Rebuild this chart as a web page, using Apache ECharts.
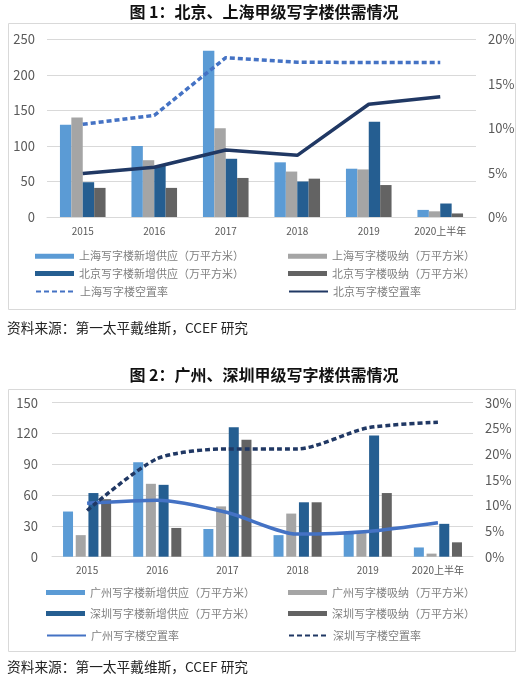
<!DOCTYPE html>
<html><head><meta charset="utf-8">
<script src="https://cdn.jsdelivr.net/npm/echarts@6/dist/echarts.min.js"></script>
<style>html,body{margin:0;padding:0;background:#fff}#c{width:524px;height:680px}</style>
</head><body><div id="c"></div>
<script>
// ---- Data ----
const categories = ['2015','2016','2017','2018','2019','2020上半年'];
// Chart 1 (万平方米)
const shSupply = [130,100,234,77,68,10];
const shAbsorb = [140,80,125,64,67,8];
const bjSupply = [49,72,82,50,134,19];
const bjAbsorb = [41,41,55,54,45,5];
// Chart 1 vacancy (%)
const shVacancy = [10.45,11.45,17.95,17.45,17.4,17.4];
const bjVacancy = [4.9,5.6,7.55,6.95,12.7,13.55];
// Chart 2 (万平方米)
const gzSupply = [44,92,27,21,23,9];
const gzAbsorb = [21,71,49,42,23,3];
const szSupply = [62,70,126,53,118,32];
const szAbsorb = [56,28,114,53,62,14];
// Chart 2 vacancy (%)
const gzVacancy = [10.4,11.0,8.6,4.4,4.9,6.6];
const szVacancy = [9.0,19.1,21.0,21.0,25.1,26.2];

const names1 = ['上海写字楼新增供应（万平方米）','上海写字楼吸纳（万平方米）','北京写字楼新增供应（万平方米）','北京写字楼吸纳（万平方米）','上海写字楼空置率','北京写字楼空置率'];
const names2 = ['广州写字楼新增供应（万平方米）','广州写字楼吸纳（万平方米）','深圳写字楼新增供应（万平方米）','深圳写字楼吸纳（万平方米）','广州写字楼空置率','深圳写字楼空置率'];

const C_LB='#5B9BD5', C_G='#A5A5A5', C_DB='#255E91', C_DG='#636363', C_MB='#4472C4', C_NV='#203864';
const FONT='"Noto Sans CJK SC","Noto Sans",sans-serif';
const gridLine={show:true,lineStyle:{color:'#d9d9d9',width:1}};
const axisLbl={color:'#595959',fontSize:13,fontFamily:FONT};

function xAxis(gi){return {type:'category',gridIndex:gi,data:categories,
  axisLine:{show:true,lineStyle:{color:'#d9d9d9'}},axisTick:{show:false},
  axisLabel:{color:'#595959',fontSize:10,fontFamily:FONT,margin:9,interval:0}};}
function yL(gi,max,intv,m){return {type:'value',gridIndex:gi,min:0,max:max,interval:intv,position:'left',
  splitLine:gridLine,axisLine:{show:false},axisTick:{show:false},axisLabel:Object.assign({margin:m},axisLbl)};}
function yR(gi,max,intv){return {type:'value',gridIndex:gi,min:0,max:max,interval:intv,position:'right',
  splitLine:{show:false},axisLine:{show:false},axisTick:{show:false},
  axisLabel:Object.assign({margin:12,formatter:'{value}%'},axisLbl)};}

function bar(name,data,color,xi,yi,bw,gap){return {type:'bar',name:name,data:data,xAxisIndex:xi,yAxisIndex:yi,
  barWidth:bw,barGap:gap,itemStyle:{color:color},z:2};}
function line(name,data,color,xi,yi,dashed,smooth){return {type:'line',name:name,data:data,xAxisIndex:xi,yAxisIndex:yi,
  symbol:'none',smooth:smooth,z:5,lineStyle:{color:color,width:3.5,type:dashed?[5,3]:'solid',cap:'butt'},itemStyle:{color:color}};}

function lg(name,left,cy,isLine){const o={data:[name],left:left,top:cy-6,padding:0,itemWidth:39,itemHeight:isLine?6:5,
  selectedMode:false,
  textStyle:{color:'#7f7f7f',fontSize:11,fontFamily:FONT,padding:[0,0,0,0]},itemGap:5};
  if(isLine){o.itemStyle={opacity:0};} else {o.icon='rect';}
  return o;}

const option={
  animation:false,
  grid:[{left:47,top:39.5,width:429,height:177.5},{left:52,top:402.7,width:421,height:154}],
  xAxis:[xAxis(0),xAxis(1)],
  yAxis:[yL(0,250,50,12),yR(0,20,5),yL(1,150,30,14),yR(1,30,5)],
  legend:[
    lg(names1[0],35,256.7,false),lg(names1[1],288,256.7,false),
    lg(names1[2],35,274,false),lg(names1[3],288,274,false),
    lg(names1[4],35,292,true),lg(names1[5],288,292,true),
    lg(names2[0],46,593,false),lg(names2[1],288,593,false),
    lg(names2[2],46,614,false),lg(names2[3],288,614,false),
    lg(names2[4],46,636,true),lg(names2[5],288,636,true)
  ],
  series:[
    bar(names1[0],shSupply,C_LB,0,0,11.4,'0%'),
    bar(names1[1],shAbsorb,C_G,0,0,11.4,'0%'),
    bar(names1[2],bjSupply,C_DB,0,0,11.4,'0%'),
    bar(names1[3],bjAbsorb,C_DG,0,0,11.4,'0%'),
    line(names1[4],shVacancy,C_MB,0,1,true,false),
    line(names1[5],bjVacancy,C_NV,0,1,false,false),
    bar(names2[0],gzSupply,C_LB,1,2,10,'27%'),
    bar(names2[1],gzAbsorb,C_G,1,2,10,'27%'),
    bar(names2[2],szSupply,C_DB,1,2,10,'27%'),
    bar(names2[3],szAbsorb,C_DG,1,2,10,'27%'),
    line(names2[4],gzVacancy,C_MB,1,3,false,0.25),
    line(names2[5],szVacancy,C_NV,1,3,true,0.25)
  ],
  graphic:[
    {type:'rect',shape:{x:8.5,y:23.5,width:507,height:286},style:{fill:'none',stroke:'#d9d9d9',lineWidth:1},z:-1},
    {type:'rect',shape:{x:8.5,y:389.5,width:507,height:262},style:{fill:'none',stroke:'#d9d9d9',lineWidth:1},z:-1},
    {type:'text',x:264,y:12,style:{text:'图 1：北京、上海甲级写字楼供需情况',fill:'#111',font:'bold 16px '+FONT,textAlign:'center',textVerticalAlign:'middle'}},
    {type:'text',x:264,y:375,style:{text:'图 2：广州、深圳甲级写字楼供需情况',fill:'#111',font:'bold 16px '+FONT,textAlign:'center',textVerticalAlign:'middle'}},
    {type:'text',x:7,y:328,style:{text:'资料来源：第一太平戴维斯，CCEF 研究',fill:'#222',font:'13.7px '+FONT,textAlign:'left',textVerticalAlign:'middle'}},
    {type:'text',x:7,y:667,style:{text:'资料来源：第一太平戴维斯，CCEF 研究',fill:'#222',font:'13.7px '+FONT,textAlign:'left',textVerticalAlign:'middle'}}
  ]
};
const chart=echarts.init(document.getElementById('c'),null,{renderer:'canvas'});
chart.setOption(option);
</script></body></html>
